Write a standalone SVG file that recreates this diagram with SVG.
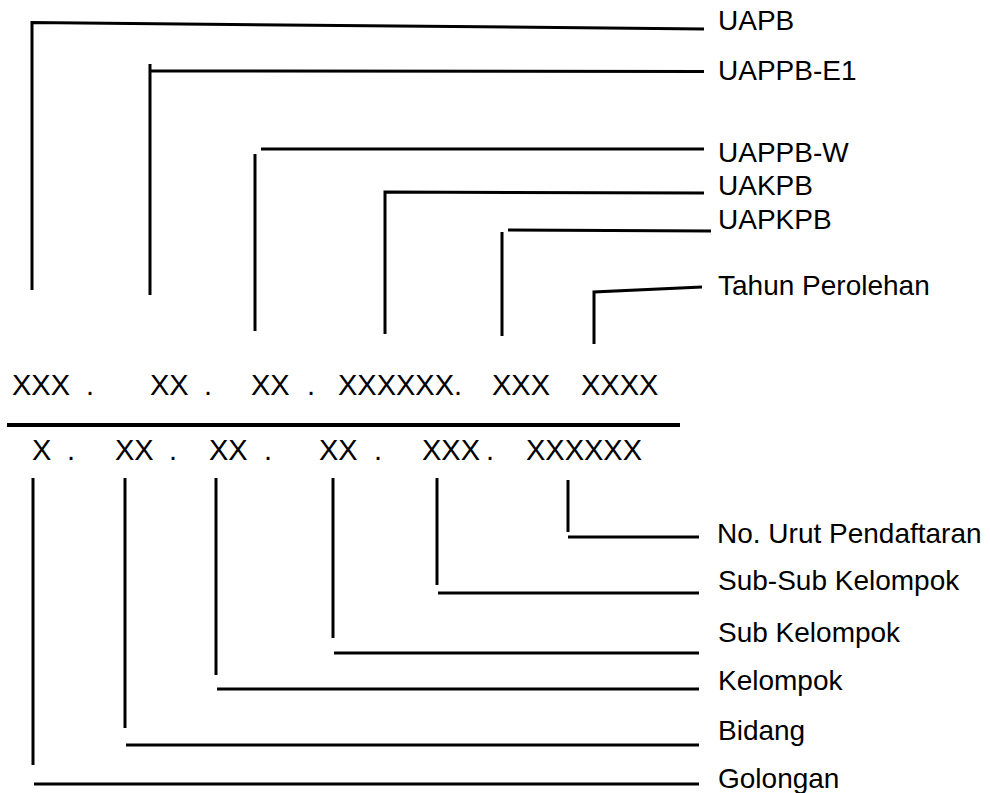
<svg xmlns="http://www.w3.org/2000/svg" width="990" height="793" viewBox="0 0 990 793">
<style>
.lbl{font-family:"Liberation Sans",Arial,sans-serif;font-size:28px;fill:#000}
.code{font-family:"Liberation Sans",Arial,sans-serif;font-size:29px;fill:#000}
.ln{fill:none;stroke:#000;stroke-width:3;stroke-linecap:butt;stroke-linejoin:miter}
.div{fill:none;stroke:#000;stroke-width:4}
</style>
<rect width="990" height="793" fill="#fff"/>
<g id="connectors">
<polyline class="ln" points="32,290 32,22.5 704,29"/>
<polyline class="ln" points="150,295 150,64"/>
<polyline class="ln" points="150,71 704,71.5"/>
<polyline class="ln" points="255,154 255,331"/>
<polyline class="ln" points="261,149 704,149"/>
<polyline class="ln" points="385,334 385,192 704,193"/>
<polyline class="ln" points="502,232 502,336"/>
<polyline class="ln" points="508,230 711,231"/>
<polyline class="ln" points="594,344 594,292 702,287"/>
<line class="div" x1="7" y1="425" x2="680" y2="425"/>
<polyline class="ln" points="568,480 568,532"/>
<polyline class="ln" points="568,537 699,537"/>
<polyline class="ln" points="437,478 437,585"/>
<polyline class="ln" points="438,593 699,593"/>
<polyline class="ln" points="333,478 333,638"/>
<polyline class="ln" points="334,653 699,653"/>
<polyline class="ln" points="216,478 216,675"/>
<polyline class="ln" points="217,689 699,689"/>
<polyline class="ln" points="125,478 125,728"/>
<polyline class="ln" points="126,745 699,745"/>
<polyline class="ln" points="33,478 33,765"/>
<polyline class="ln" points="34,784 699,784"/>
</g>
<g id="code-top">
<text class="code" x="12" y="395">XXX</text>
<text class="code" x="86" y="395">.</text>
<text class="code" x="150" y="395">XX</text>
<text class="code" x="204" y="395">.</text>
<text class="code" x="251" y="395">XX</text>
<text class="code" x="307" y="395">.</text>
<text class="code" x="338" y="395">XXXXXX.</text>
<text class="code" x="492" y="395">XXX</text>
<text class="code" x="581" y="395">XXXX</text>
</g>
<g id="code-bottom">
<text class="code" x="32" y="460">X</text>
<text class="code" x="67" y="460">.</text>
<text class="code" x="115" y="460">XX</text>
<text class="code" x="169" y="460">.</text>
<text class="code" x="209" y="460">XX</text>
<text class="code" x="264" y="460">.</text>
<text class="code" x="319" y="460">XX</text>
<text class="code" x="374" y="460">.</text>
<text class="code" x="422" y="460">XXX</text>
<text class="code" x="486" y="460">.</text>
<text class="code" x="526" y="460">XXXXXX</text>
</g>
<g id="n-uapb"><text class="lbl" x="718" y="30">UAPB</text></g>
<g id="n-uappb-e1"><text class="lbl" x="718" y="80">UAPPB-E1</text></g>
<g id="n-uappb-w"><text class="lbl" x="718" y="162">UAPPB-W</text></g>
<g id="n-uakpb"><text class="lbl" x="718" y="195">UAKPB</text></g>
<g id="n-uapkpb"><text class="lbl" x="718" y="229">UAPKPB</text></g>
<g id="n-tahun"><text class="lbl" x="718" y="295">Tahun Perolehan</text></g>
<g id="n-nourut"><text class="lbl" x="717" y="543">No. Urut Pendaftaran</text></g>
<g id="n-subsub"><text class="lbl" x="718" y="590">Sub-Sub Kelompok</text></g>
<g id="n-sub"><text class="lbl" x="718" y="642">Sub Kelompok</text></g>
<g id="n-kelompok"><text class="lbl" x="718" y="690">Kelompok</text></g>
<g id="n-bidang"><text class="lbl" x="718" y="740">Bidang</text></g>
<g id="n-golongan"><text class="lbl" x="718" y="788">Golongan</text></g>
</svg>
